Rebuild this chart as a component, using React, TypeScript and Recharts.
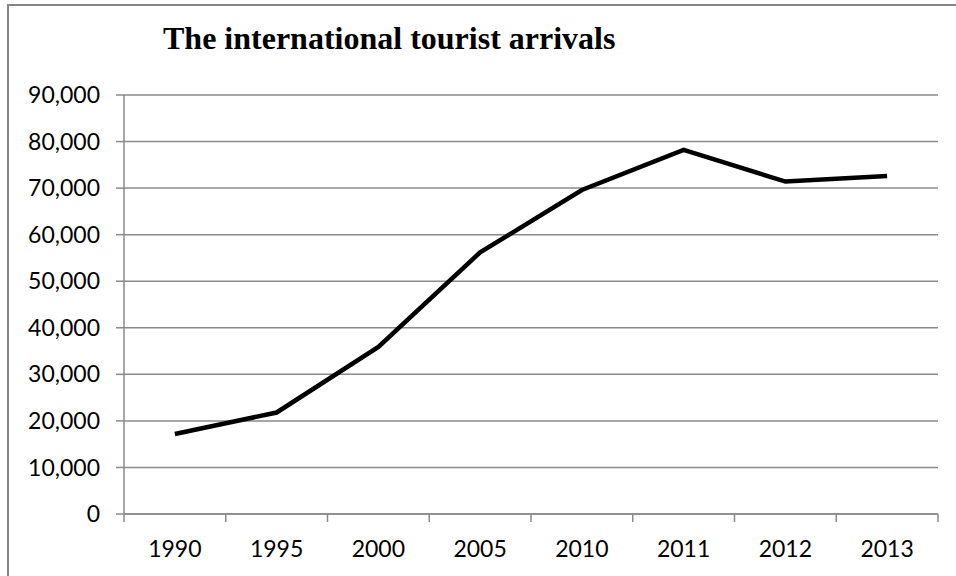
import { LineChart, Line, XAxis, YAxis, CartesianGrid } from "recharts";

// International tourist arrivals by year
const years = ["1990", "1995", "2000", "2005", "2010", "2011", "2012", "2013"];
const arrivals = [17200, 21800, 35900, 56200, 69600, 78200, 71400, 72600];
const yTicks = [0, 10000, 20000, 30000, 40000, 50000, 60000, 70000, 80000, 90000];
// tick marks sit between categories, like Excel
const edgeTicks = [0, 1, 2, 3, 4, 5, 6, 7, 8];

// each year sits in the middle of its slot
const data = years.map((year, i) => ({ year, pos: i + 0.5, arrivals: arrivals[i] }));

const GRID = "#8a8a8a";
const labelFont = { fill: "#000", fontSize: 23, fontFamily: "Lato" };

// year label drawn in the middle of the slot to the right of each tick
const YearTick = (props: any) => {
  const { x, y, width, payload } = props;
  const label = years[payload.value];
  if (!label) return null;
  const slot = width / years.length;
  return (
    <text x={x + slot / 2} y={y} dy="0.71em" textAnchor="middle" {...labelFont}>
      {label}
    </text>
  );
};

export default function App() {
  return (
    <div style={{ position: "absolute", left: 0, top: 0, width: 956, height: 576, background: "#fff", overflow: "hidden" }}>
      <div
        style={{
          position: "absolute",
          left: 7,
          top: 4,
          width: 960,
          height: 580,
          borderLeft: "2px solid #868686",
          borderTop: "2px solid #868686",
        }}
      />
      <div
        style={{
          position: "absolute",
          left: 163,
          top: 22,
          font: "bold 32px 'Liberation Serif'",
          lineHeight: "32px",
          whiteSpace: "nowrap",
          color: "#000",
        }}
      >
        The international tourist arrivals
      </div>
      <LineChart
        width={956}
        height={576}
        data={data}
        margin={{ top: 95, right: 18, bottom: 0, left: 0 }}
        style={{ position: "absolute", left: 0, top: 0 }}
      >
        <CartesianGrid vertical={false} stroke={GRID} strokeWidth={1.5} />
        <XAxis
          dataKey="pos"
          type="number"
          domain={[0, years.length]}
          ticks={edgeTicks}
          interval={0}
          tick={<YearTick />}
          tickSize={8}
          tickMargin={19}
          height={62}
          stroke={GRID}
          strokeWidth={1.5}
        />
        <YAxis
          width={124}
          domain={[0, 90000]}
          ticks={yTicks}
          tickSize={8}
          tickMargin={16}
          stroke={GRID}
          strokeWidth={1.5}
          tick={labelFont}
          tickFormatter={(v: number) => v.toLocaleString("en-US")}
        />
        <Line
          type="linear"
          dataKey="arrivals"
          stroke="#000"
          strokeWidth={4.5}
          dot={false}
          activeDot={false}
          isAnimationActive={false}
        />
      </LineChart>
    </div>
  );
}
